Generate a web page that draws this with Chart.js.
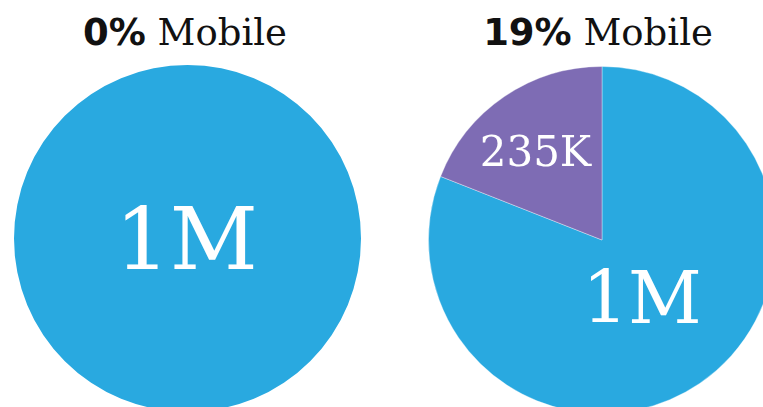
<!DOCTYPE html>
<html>
<head>
<meta charset="utf-8">
<script src="https://cdn.jsdelivr.net/npm/chart.js@4/dist/chart.umd.min.js"></script>
<style>
  html, body { margin: 0; padding: 0; background: #fff; }
  body { width: 763px; height: 407px; overflow: hidden; position: relative; }
  .title {
    position: absolute; top: 11px; width: 380px; text-align: center;
    font-family: "DejaVu Serif", serif; font-size: 37px; color: #111; white-space: nowrap;
  }
  .title b { font-family: "DejaVu Sans", sans-serif; font-weight: bold; }
  .pie { position: absolute; }
</style>
</head>
<body>
<div class="title" id="title-left" style="left:-5px"></div>
<div class="title" id="title-right" style="left:408px"></div>
<div class="pie" style="left:14px; top:65px; width:347px; height:347px;"><canvas id="pie-left" width="347" height="347"></canvas></div>
<div class="pie" style="left:428px; top:66px; width:348px; height:348px;"><canvas id="pie-right" width="348" height="348"></canvas></div>
<script>
// categorias e valores
const categories = ['Desktop', 'Mobile'];
const leftValues = [1000000, 0];
const rightValues = [1000000, 235000];
const sliceColors = ['#29a9e0', '#7e6cb4'];

function formatValue(v) {
    if (v >= 1000000) return (v / 1000000) + 'M';
    if (v >= 1000) return (v / 1000) + 'K';
    return String(v);
}

function mobileShare(values) {
    const total = values.reduce((a, b) => a + b, 0);
    return Math.round(values[1] / total * 100);
}

document.getElementById('title-left').innerHTML = '<b>' + mobileShare(leftValues) + '%</b> Mobile';
document.getElementById('title-right').innerHTML = '<b>' + mobileShare(rightValues) + '%</b> Mobile';

// plugin simples para escrever o valor dentro de cada fatia
const sliceLabels = {
    id: 'sliceLabels',
    afterDatasetsDraw(chart, args, opts) {
        const { ctx } = chart;
        const ds = chart.data.datasets[0];
        const meta = chart.getDatasetMeta(0);
        ctx.save();
        ctx.fillStyle = '#fff';
        ctx.textAlign = 'center';
        ctx.textBaseline = 'alphabetic';
        meta.data.forEach((arc, i) => {
            const value = ds.data[i];
            if (!value) return;
            const { x, y, startAngle, endAngle, outerRadius } =
                arc.getProps(['x', 'y', 'startAngle', 'endAngle', 'outerRadius'], true);
            const mid = (startAngle + endAngle) / 2;
            const r = outerRadius * opts.radius[i];
            const size = opts.size[i];
            ctx.font = size + 'px "DejaVu Serif", serif';
            ctx.fillText(formatValue(value), x + Math.cos(mid) * r + opts.dx[i], y + Math.sin(mid) * r + size * 0.36);
        });
        ctx.restore();
    }
};

function makePie(id, values, labelOpts) {
    // sem borda quando só há uma fatia (evita o risco branco no topo)
    const slices = values.filter(v => v > 0).length;
    return new Chart(document.getElementById(id), {
        type: 'pie',
        data: {
            labels: categories,
            datasets: [{
                data: values,
                backgroundColor: sliceColors,
                borderColor: 'rgba(255,255,255,0.35)',
                borderWidth: slices > 1 ? 1 : 0
            }]
        },
        options: {
            responsive: false,
            animation: false,
            layout: { padding: 0 },
            plugins: {
                legend: { display: false },
                tooltip: { enabled: false },
                sliceLabels: labelOpts
            }
        },
        plugins: [sliceLabels]
    });
}

makePie('pie-left', leftValues, { radius: [0, 0], size: [86, 0], dx: [-1, 0] });
makePie('pie-right', rightValues, { radius: [0.4, 0.62], size: [72, 42], dx: [1, -6] });
</script>
</body>
</html>
